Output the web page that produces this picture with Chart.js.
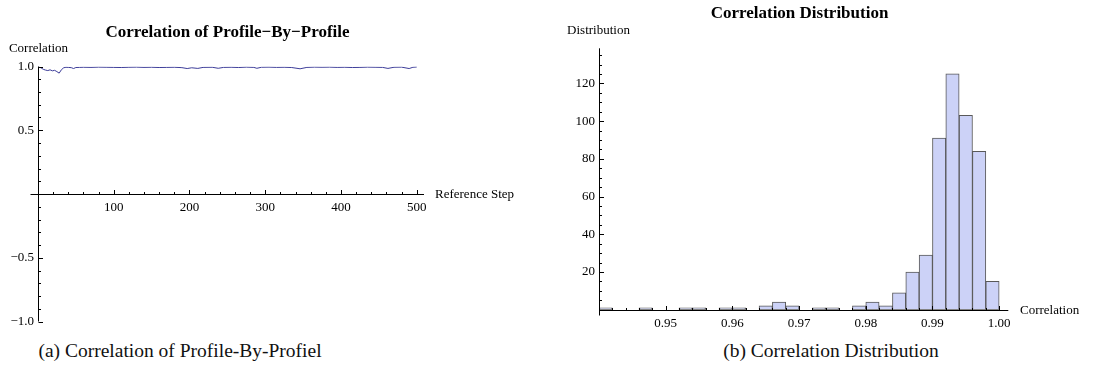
<!DOCTYPE html>
<html><head><meta charset="utf-8">
<script src="https://cdn.jsdelivr.net/npm/chart.js@4.4.0/dist/chart.umd.min.js"></script>
<style>
html,body{margin:0;padding:0;background:#fff;}
#wrap{position:relative;width:1103px;height:374px;overflow:hidden;background:#fff;}
canvas{position:absolute;top:0;}
.cap{position:absolute;font-family:"Liberation Serif",serif;font-size:19.5px;color:#111;white-space:nowrap;transform:translate(-50%,-50%);top:351px;}
</style></head><body>
<div id="wrap">
<canvas id="c1" width="560" height="340" style="left:0"></canvas>
<canvas id="c2" width="543" height="340" style="left:560px"></canvas>
<div class="cap" style="left:180px">(a) Correlation of Profile-By-Profiel</div>
<div class="cap" style="left:831px">(b) Correlation Distribution</div>
</div>
<script>
// ---- Left panel data: correlation per reference step ----
const referenceSteps = [1,4,7,10,13,16,19,22,25,28,31,34,37,40,44,47,50,55,60,70,80,90,100,110,120,130,140,150,160,170,180,190,197,203,211,218,230,238,245,255,265,275,285,289,295,305,315,325,335,346,355,365,375,385,395,405,415,425,435,445,455,462,470,480,490,495,500];
const correlationValues = [0.995,0.99,0.978,0.972,0.968,0.974,0.966,0.97,0.96,0.948,0.975,0.99,0.994,0.993,0.991,0.984,0.992,0.993,0.994,0.993,0.995,0.994,0.993,0.992,0.994,0.995,0.993,0.994,0.992,0.993,0.994,0.991,0.984,0.99,0.985,0.993,0.994,0.986,0.993,0.994,0.992,0.995,0.993,0.986,0.994,0.995,0.993,0.994,0.992,0.982,0.993,0.995,0.994,0.995,0.993,0.994,0.992,0.993,0.995,0.994,0.993,0.985,0.994,0.995,0.984,0.994,0.996];
const stepTicks = [100,200,300,400,500];
const stepTickLabels = ['100','200','300','400','500'];
const corrTicks = [-1,-0.5,0.5,1];
const corrTickLabels = ['\u22121.0','\u22120.5','0.5','1.0'];

// ---- Right panel data: histogram of correlations ----
const binCenters = [0.941,0.943,0.945,0.947,0.949,0.951,0.953,0.955,0.957,0.959,0.961,0.963,0.965,0.967,0.969,0.971,0.973,0.975,0.977,0.979,0.981,0.983,0.985,0.987,0.989,0.991,0.993,0.995,0.997,0.999];
const binCounts  = [1,0,0,1,0,0,1,1,0,1,1,0,2,4,2,0,1,1,0,2,4,2,9,20,29,91,125,103,84,15];
const distTicks = [20,40,60,80,100,120];
const distTickLabels = ['20','40','60','80','100','120'];
const binTicks = [0.95,0.96,0.97,0.98,0.99,1.00];
const binTickLabels = ['0.95','0.96','0.97','0.98','0.99','1.00'];

const FONT = '"Liberation Serif", "Times New Roman", serif';
function seg(ctx,x1,y1,x2,y2){ctx.beginPath();ctx.moveTo(x1,y1);ctx.lineTo(x2,y2);ctx.stroke();}
const H = v => Math.round(v) + 0.5;

const leftAxes = {
  id: 'leftAxes',
  afterDatasetsDraw(chart){
    const {ctx, scales:{x, y}, chartArea:a} = chart;
    const x0 = H(x.getPixelForValue(0)), y0 = H(y.getPixelForValue(0));
    ctx.save();
    ctx.strokeStyle = '#000'; ctx.lineWidth = 1;
    seg(ctx, x0-8, y0, a.right, y0);
    seg(ctx, x0, y.getPixelForValue(-1), x0, y.getPixelForValue(1));
    for (let s = 20; s <= 500; s += 20) {
      const px = H(x.getPixelForValue(s));
      seg(ctx, px, y0, px, y0 - (s % 100 === 0 ? 4.5 : 2.5));
    }
    for (let k = -10; k <= 10; k++) {
      const py = H(y.getPixelForValue(k/10));
      seg(ctx, x0, py, x0 + (k % 5 === 0 ? 4.5 : 2.5), py);
    }
    ctx.fillStyle = '#000';
    ctx.font = '13px ' + FONT;
    ctx.textAlign = 'center'; ctx.textBaseline = 'middle';
    stepTicks.forEach((s,i) => ctx.fillText(stepTickLabels[i], x.getPixelForValue(s), y0 + 13));
    ctx.textAlign = 'right';
    corrTicks.forEach((v,i) => ctx.fillText(corrTickLabels[i], x0 - 4.5, y.getPixelForValue(v)));
    ctx.textAlign = 'left';
    ctx.fillText('Reference Step', a.right + 11, y0);
    ctx.textAlign = 'center';
    ctx.fillText('Correlation', x0, 49);
    ctx.font = 'bold 17px ' + FONT;
    ctx.fillText('Correlation of Profile\u2212By\u2212Profile', 227.5, 32.5);
    ctx.restore();
  }
};

const rightAxes = {
  id: 'rightAxes',
  afterDatasetsDraw(chart){
    const {ctx, scales:{x, y}, chartArea:a} = chart;
    const x0 = H(x.getPixelForValue(0.94)), y0 = H(y.getPixelForValue(0));
    ctx.save();
    ctx.strokeStyle = '#000'; ctx.lineWidth = 1;
    seg(ctx, x0, y0, a.right, y0);
    seg(ctx, x0, y0 + 5, x0, a.top);
    for (let k = 1; k <= 30; k++) {
      const px = H(x.getPixelForValue(0.94 + k*0.002));
      seg(ctx, px, y0, px, y0 - (k % 5 === 0 ? 4.5 : 2.5));
    }
    for (let v = 5; v <= 135; v += 5) {
      const py = H(y.getPixelForValue(v));
      seg(ctx, x0, py, x0 + (v % 20 === 0 ? 4.5 : 2.5), py);
    }
    ctx.fillStyle = '#000';
    ctx.font = '13px ' + FONT;
    ctx.textAlign = 'center'; ctx.textBaseline = 'middle';
    binTicks.forEach((v,i) => ctx.fillText(binTickLabels[i], x.getPixelForValue(v), y0 + 13));
    ctx.textAlign = 'right';
    distTicks.forEach((v,i) => ctx.fillText(distTickLabels[i], x0 - 4.5, y.getPixelForValue(v)));
    ctx.textAlign = 'left';
    ctx.fillText('Correlation', 460, y0);
    ctx.textAlign = 'center';
    ctx.fillText('Distribution', x0 - 1, 31);
    ctx.font = 'bold 17px ' + FONT;
    ctx.fillText('Correlation Distribution', 239.5, 13.5);
    ctx.restore();
  }
};

new Chart(document.getElementById('c1'), {
  type: 'line',
  data: { datasets: [{
    data: referenceSteps.map((s,i) => ({x: s, y: correlationValues[i]})),
    borderColor: 'rgb(61,61,153)', borderWidth: 1, pointRadius: 0, tension: 0, fill: false
  }]},
  options: {
    responsive: false, animation: false, devicePixelRatio: 1,
    layout: { padding: { left: 37.95, right: 136, top: 66.5, bottom: 18.5 } },
    plugins: { legend: {display:false}, tooltip: {enabled:false} },
    scales: {
      x: { type: 'linear', min: 0, max: 509.6, display: false },
      y: { type: 'linear', min: -1, max: 1, display: false }
    }
  },
  plugins: [leftAxes]
});

new Chart(document.getElementById('c2'), {
  type: 'bar',
  data: { datasets: [{
    data: binCenters.map((c,i) => ({x: c, y: binCounts[i]})),
    backgroundColor: 'rgb(204,210,247)', borderColor: 'rgba(60,60,60,0.85)',
    borderWidth: 1, borderSkipped: false,
    barPercentage: 1, categoryPercentage: 1
  }]},
  options: {
    responsive: false, animation: false, devicePixelRatio: 1,
    layout: { padding: { left: 39, right: 94.7, top: 48.3, bottom: 30.3 } },
    plugins: { legend: {display:false}, tooltip: {enabled:false} },
    scales: {
      x: { type: 'linear', min: 0.94, max: 1.00137, offset: false, display: false,
           ticks: { stepSize: 0.01, includeBounds: false } },
      y: { type: 'linear', min: 0, max: 138.6, display: false }
    }
  },
  plugins: [rightAxes]
});
</script>
</body></html>
